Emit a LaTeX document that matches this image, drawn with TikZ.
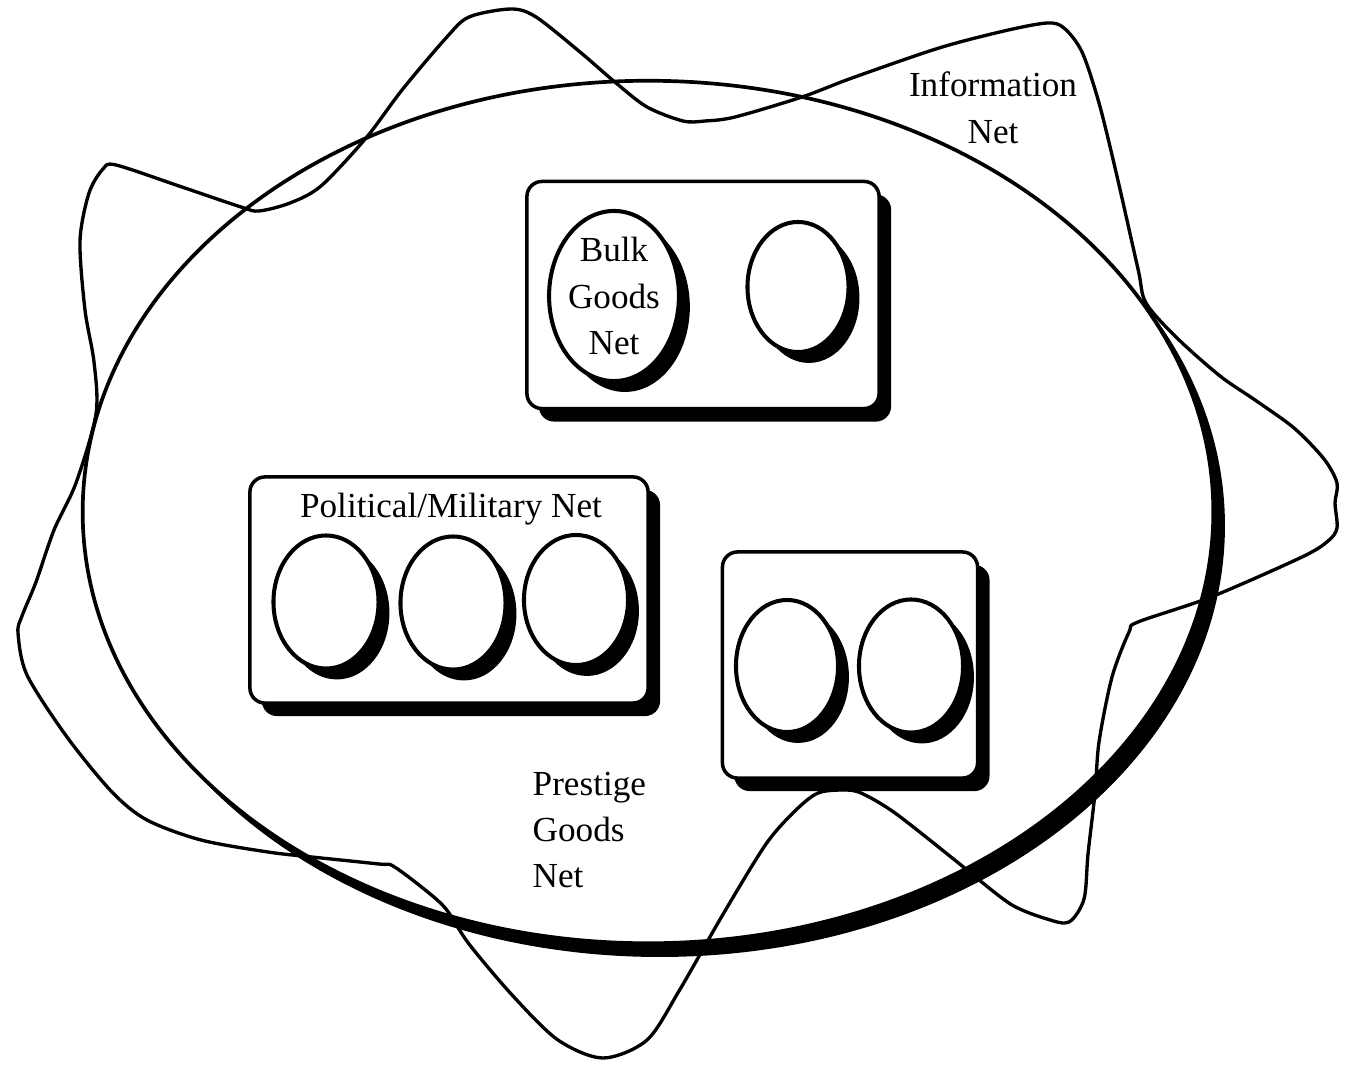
\documentclass[tikz,border=0pt]{standalone}
\usepackage{fontspec}
\setmainfont{Liberation Serif}
\usepackage{tikz}
\usetikzlibrary{shapes.geometric,shadows}
\newcommand{\boxShX}{3.4pt}
\newcommand{\boxShY}{-3.7pt}
\newcommand{\discSh}{3.1pt}
\tikzset{
  netbox/.style  ={draw=black,line width=1pt,fill=white,rounded corners=4.3pt,inner sep=0pt,
                   drop shadow={fill=black,opacity=1,shadow xshift=\boxShX,shadow yshift=\boxShY}},
  netdisc/.style ={ellipse,draw=black,line width=1.15pt,fill=white,inner sep=0pt,
                   drop shadow={fill=black,opacity=1,shadow xshift=\discSh,shadow yshift=-\discSh}},
  ringnet/.style ={ellipse,draw=black,line width=1.05pt,fill=white,inner sep=0pt,
                   drop shadow={fill=black,opacity=1,shadow xshift=3.3pt,shadow yshift=-3.9pt}},
  waveline/.style={line width=0.95pt,line join=round},
  netlab/.style  ={inner sep=0pt,font=\fontsize{10pt}{13.2pt}\selectfont},
}
\newcommand{\netdisc}[5]{\node[netdisc,minimum width=#4,minimum height=#5] (#1) at (#2,#3) {};}

\begin{document}
\begin{tikzpicture}[x=0.01cm,y=-0.01cm]
  \useasboundingbox (0,0) rectangle (1358,1070);
  % prestige goods ring
  \node[ringnet,minimum width=11.3cm,minimum height=8.62cm] (ring) at (648,512) {};
  % information net
  \draw[waveline] plot[smooth cycle,tension=0.5] coordinates {
    (511,9) (536,17) (580,52) (616,83) (647,107) (683,121) (705,121) (735,117)
    (802,97) (852,78) (939,48) (1004,31) (1047,23) (1064,28) (1082,52) (1099,103)
    (1116,172) (1138,269) (1146,303) (1177,338) (1220,376) (1255,400) (1294,428)
    (1324,459) (1337,483) (1335,503) (1337,528) (1328,541) (1302,557) (1211,597)
    (1138,622) (1129,632) (1112,677) (1099,742) (1095,793) (1088,854) (1084,899)
    (1069,922) (1047,919) (1012,905) (973,875) (956,861) (895,813) (861,793)
    (843,790) (818,793) (796,810) (766,844) (722,916) (679,991) (647,1040)
    (603,1058) (558,1040) (513,996) (469,944) (446,909) (424,889) (393,866)
    (379,864) (312,857) (268,852) (201,840) (147,820) (112,792) (67,737) (27,675)
    (18,633) (22,616) (36,582) (54,530) (76,483) (96,414) (94,362) (85,310)
    (80,241) (89,193) (103,169) (116,165) (179,186) (241,207) (259,211) (290,203)
    (321,186) (366,138) (402,90) (446,38) (469,17)};
  \node[netlab,align=center] (infolab) at (993,108) {Information\\Net};
  % bulk goods
  \node[netbox,minimum width=3.52cm,minimum height=2.27cm] (bulkbox) at (703,295) {};
  \node[netdisc,netlab,align=center,minimum width=1.27cm,minimum height=1.70cm] (bulk) at (614,296) {Bulk\\Goods\\Net};
  \netdisc{bulkb}{798}{287}{1.01cm}{1.30cm}
  % political/military
  \node[netbox,minimum width=3.98cm,minimum height=2.26cm] (polbox) at (449,590) {};
  \node[netlab,anchor=base] (pollab) at (451,517) {Political/Military Net};
  \netdisc{pola}{326}{602}{1.05cm}{1.33cm}
  \netdisc{polb}{453}{603}{1.05cm}{1.33cm}
  \netdisc{polc}{576}{600}{1.04cm}{1.30cm}
  % prestige
  \node[netbox,minimum width=2.55cm,minimum height=2.26cm] (prebox) at (850,665) {};
  \netdisc{prea}{787}{666}{1.02cm}{1.32cm}
  \netdisc{preb}{911}{666}{1.04cm}{1.33cm}
  \node[netlab,align=left,anchor=west] (prelab) at (532,830) {Prestige\\Goods\\Net};
\end{tikzpicture}
\end{document}
